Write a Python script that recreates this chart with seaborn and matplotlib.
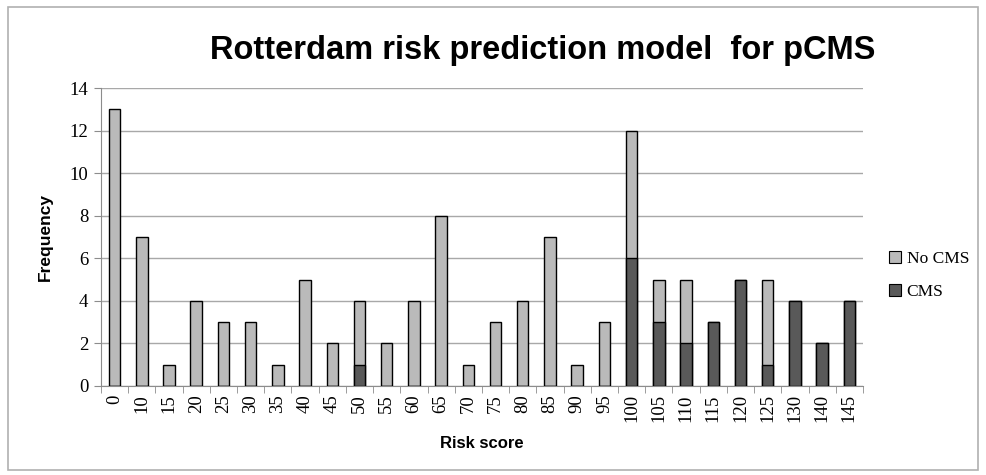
"""Stacked frequency chart: Rotterdam risk prediction model for pCMS."""

import matplotlib

matplotlib.use("Agg")
import matplotlib.pyplot as plt
import numpy as np
import pandas as pd
import seaborn as sns
from matplotlib.patches import Rectangle

risk_scores = ["0", "10", "15", "20", "25", "30", "35", "40", "45", "50", "55", "60", "65", "70",
               "75", "80", "85", "90", "95", "100", "105", "110", "115", "120", "125", "130",
               "140", "145"]
cms = [0, 0, 0, 0, 0, 0, 0, 0, 0, 1, 0, 0, 0, 0, 0, 0, 0, 0, 0, 6, 3, 2, 3, 5, 1, 4, 2, 4]
no_cms = [13, 7, 1, 4, 3, 3, 1, 5, 2, 3, 2, 4, 8, 1, 3, 4, 7, 1, 3, 6, 2, 3, 0, 0, 4, 0, 0, 0]

LIGHT = "#bababa"
DARK = "#595959"

df = pd.DataFrame({"score": risk_scores, "cms": cms, "no_cms": no_cms})
df["total"] = df["cms"] + df["no_cms"]

sns.set_style("white")
plt.rcParams["text.color"] = "black"
fig = plt.figure(figsize=(9.86, 4.75), dpi=100)
fig.patches.append(Rectangle((0.008, 0.01), 0.984, 0.975, transform=fig.transFigure,
                             fill=False, edgecolor="#b0b0b0", linewidth=1.2))
ax = fig.add_axes([0.1024, 0.1874, 0.7728, 0.6273])

sns.barplot(data=df, x="score", y="total", order=risk_scores, color=LIGHT, width=0.42,
            edgecolor="black", linewidth=1.0, saturation=1, ax=ax, zorder=3)
sns.barplot(data=df, x="score", y="cms", order=risk_scores, color=DARK, width=0.42,
            edgecolor="black", linewidth=1.0, saturation=1, ax=ax, zorder=3)

ax.set_ylim(0, 14)
ax.set_xlim(-0.5, len(risk_scores) - 0.5)
ax.set_yticks(np.arange(0, 15, 2))
ax.yaxis.grid(True, color="#a8a8a8", linewidth=1.0, zorder=0)
ax.set_axisbelow(True)
for side in ["top", "right"]:
    ax.spines[side].set_visible(False)
ax.spines["left"].set_color("#8c8c8c")
ax.spines["bottom"].set_color("#8c8c8c")

serif = ["Liberation Serif", "DejaVu Serif"]
ax.set_yticklabels([str(v) for v in range(0, 15, 2)], family=serif, fontsize=13.5, color="black")
ax.tick_params(axis="y", direction="out", length=5, color="#8c8c8c", left=True, pad=4)

# category labels centred, tick marks at category boundaries
ax.set_xticks(np.arange(len(risk_scores)))
ax.set_xticklabels(risk_scores, rotation=90, family=serif, fontsize=13.5, color="black")
ax.tick_params(axis="x", which="major", length=0, pad=6)
ax.set_xticks(np.arange(-0.5, len(risk_scores)), minor=True)
ax.tick_params(axis="x", which="minor", direction="out", length=5, color="#8c8c8c", bottom=True)

ax.set_xlabel("Risk score", family="Liberation Sans", fontweight="bold", fontsize=12,
              labelpad=10, color="black")
ax.set_ylabel("Frequency", family="Liberation Sans", fontweight="bold", fontsize=12.5,
              labelpad=12, color="black")

fig.text(0.55, 0.893, "Rotterdam risk prediction model  for pCMS", ha="center", va="center",
         family="Liberation Sans", fontweight="bold", fontsize=23.5, color="black")

handles = [Rectangle((0, 0), 1, 1, facecolor=LIGHT, edgecolor="black", linewidth=0.8),
           Rectangle((0, 0), 1, 1, facecolor=DARK, edgecolor="black", linewidth=0.8)]
fig.legend(handles, ["No CMS", "CMS"], loc="center left", bbox_to_anchor=(0.886, 0.42),
           frameon=False, prop={"family": serif, "size": 12.5}, handlelength=0.7,
           handleheight=0.7, handletextpad=0.3, labelspacing=1.0)

fig.savefig("out.png", dpi=100)
